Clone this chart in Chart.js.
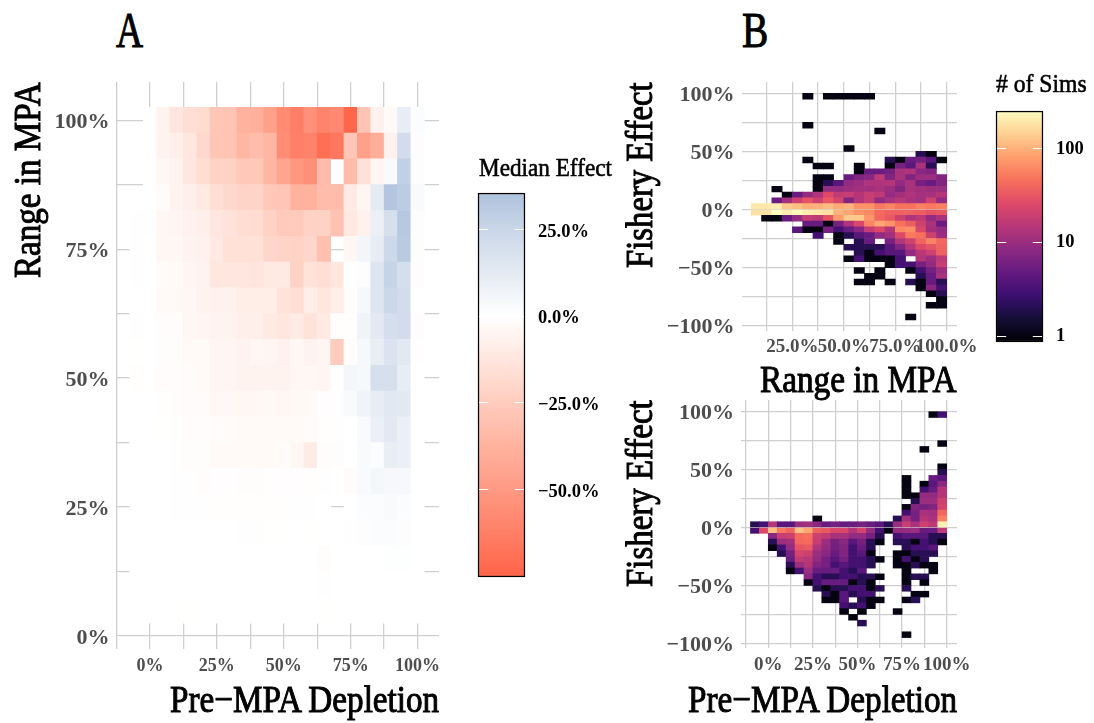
<!DOCTYPE html>
<html>
<head>
<meta charset="utf-8">
<script src="https://cdn.jsdelivr.net/npm/chart.js@4/dist/chart.umd.min.js"></script>
<style>
  html, body { margin: 0; padding: 0; background: #fff; }
  #page { position: relative; width: 1094px; height: 723px; overflow: hidden; }
  #page canvas { position: absolute; }
  .lab { position: absolute; font-family: "Liberation Serif", serif; color: #000; white-space: nowrap; line-height: 1; -webkit-text-stroke: 1px #000; transform-origin: left top; }
  .big { font-size: 38px; }
  .xt { transform-origin: right top; }
</style>
</head>
<body>
<div id="page">
  <canvas id="a" style="left:0;top:58px"></canvas>
  <canvas id="legendA" style="left:470px;top:167px"></canvas>
  <canvas id="top" style="left:620px;top:58px"></canvas>
  <canvas id="bottom" style="left:620px;top:376px"></canvas>
  <canvas id="legendB" style="left:988px;top:85px"></canvas>
  <div class="lab" data-w="27" style="left:116px;top:5px;font-size:50px">A</div>
  <div class="lab" data-w="26" style="left:742px;top:5px;font-size:50px">B</div>
  <div class="lab" data-w="133" style="left:479px;top:155px;font-size:26px;-webkit-text-stroke-width:.6px">Median Effect</div>
  <div class="lab" data-w="91" style="left:996px;top:71px;font-size:26px;-webkit-text-stroke-width:.6px"># of Sims</div>
  <div class="lab big xt" data-w="269" style="right:655px;top:680px">Pre&minus;MPA Depletion</div>
  <div class="lab big xt" data-w="269" style="right:137px;top:680px">Pre&minus;MPA Depletion</div>
  <div class="lab big xt" data-w="197" style="right:137px;top:360px">Range in MPA</div>
  <div class="lab big" data-w="196" data-rot="1" style="left:7.5px;top:278px">Range in MPA</div>
  <div class="lab big" data-w="186" data-rot="1" style="left:620px;top:268px">Fishery Effect</div>
  <div class="lab big" data-w="187" data-rot="1" style="left:620px;top:587px">Fishery Effect</div>
</div>
<script>
// panel A: range in MPA (rows) by depletion (columns), median effect in %
var depletionA = [-5,0,5,10,15,20,25,30,35,40,45,50,55,60,65,70,75,80,85,90,95,100];
var rangeA = [100,95,90,85,80,75,70,65,60,55,50,45,40,35,30,25,20,15,10,5];
var medianEffect = [
  [null,0,-6,-13,-16,-18,-28,-29,-38,-39,-47,-57,-63,-54,-60,-58,-74,-29,-7,-3,11,2],
  [null,0,-6,-8,-12,-19,-28,-29,-36,-33,-36,-56,-62,-61,-70,-66,-28,-47,-40,-7,21,1],
  [null,0,-4,-6,-12,-17,-22,-22,-27,-27,-36,-45,-52,-55,-33,null,-33,-15,-5,3,28,1],
  [null,0,-2,-6,-8,-11,-16,-19,-21,-21,-27,-28,-38,-38,-33,-33,-10,-5,12,33,30,3],
  [-0.5,-0.5,-4,-5,-7,-8,-12,-14,-17,-18,-22,-26,-26,-22,-22,-30,-11,-7,9,19,32,1],
  [-0.5,0,-4,-4,-6,-7,-11,-15,-15,-15,-20,-21,-22,-20,-31,null,-4,6,11,23,31,1],
  [-0.3,0,-2,-3,-5,-6,-12,-12,-12,-13,-11,-11,-22,-14,-16,-12,-0.5,1,16,26,20,1],
  [0,0,-3,-3,-4,-6,-7,-7,-9,-9,-9,-14,-16,-9,-12,-9,-1,4,16,24,21,0],
  [-0.3,0,-1,-1.5,-4,-5,-6,-6,-8,-8,-11,-12,-10,-14,-11,-0.7,-0.7,7,13,20,21,1],
  [-0.2,0,-1,-1,-3,-3,-5,-5,-6,-4,-5,-7,-4,-6,-5,-25,-1,4,10,17,13,0.5],
  [-0.7,0,-1.5,-1,-2,-3,-5,-5,-6,-6,-6,-6,-4,-4,-5,-0.3,5,4,19,19,11,0],
  [0,0,-0.3,-1,-2,-2,-4,-3.5,-4,-4,-3,-4,-3,-2.5,-0.8,-0.5,3,7,11,14,13,0],
  [0,0,-0.2,-0.6,-1.5,-1.5,-2,-2,-3,-2.5,-3,-3,-3,-2,-0.6,-0.4,0,3,9,13,9,0],
  [0,0,0,-0.3,-1,-1,-2.5,-2.5,-2.5,-2.5,-2.5,-2,-4,-10,-1,1,0,3,2,10,9,0],
  [0,0,-0.1,-0.3,-0.4,-1,-0.8,-0.8,-1,-1,-0.8,-0.5,-0.8,-0.6,-0.4,-0.1,-2,3,5,4,4,0],
  [0,0,0,-0.3,-0.3,-0.3,-0.6,-0.6,-0.6,-0.6,-0.6,-0.3,-0.3,-0.3,-0.1,null,0,2,2,3,2,0],
  [0,0,0,0,0,0,0,-0.1,-0.3,-0.3,-0.2,-0.2,-0.1,-0.2,0,0,0.5,1,2,2,1,0],
  [0,0,0,0,-0.1,0,0,0,-0.1,-0.1,-0.1,-0.1,-0.1,-0.1,-1,0,0.1,0,0.2,0.7,0.7,0],
  [0,0,0,0,0,0,0,0,0,0,0,0,0,0,-0.3,0,0,0,0,0,0,0],
  [0,0,0,0,-0.2,0,0,0,0,0,0,0,0,0,-0.2,0,0,0,0,0,0,0]
];

// lower edges of the 5% bins, rows run from top to bottom
var effectBins = [95,90,85,80,75,70,65,60,55,50,45,40,35,30,25,20,15,10,5,0,-5,-10,-15,-20,-25,-30,-35,-40,-45,-50,-55,-60,-65,-70,-75,-80,-85,-90,-95];

// panel B, top: sims per bin, range in MPA on x, 0 = no sims
var rangeBins = [5,10,15,20,25,30,35,40,45,50,55,60,65,70,75,80,85,90,95];
var simsByRange = [
  [0,0,0,0,0,1,0,1,1,1,1,1,0,0,0,0,0,0,0],
  [0,0,0,0,0,0,0,0,0,0,0,0,0,0,0,0,0,0,0],
  [0,0,0,0,0,0,0,0,0,0,0,0,0,0,0,0,0,0,0],
  [0,0,0,0,0,0,0,0,0,0,0,0,0,0,0,0,0,0,0],
  [0,0,0,0,0,0,0,0,0,0,0,0,0,0,0,0,0,0,0],
  [0,0,0,0,0,1,0,0,0,0,0,0,0,0,0,0,0,0,0],
  [0,0,0,0,0,0,0,0,0,0,0,0,1,0,0,0,0,0,0],
  [0,0,0,0,0,0,0,0,0,0,0,0,0,0,0,0,0,0,0],
  [0,0,0,0,0,0,0,0,0,0,0,0,0,0,0,0,0,0,0],
  [0,0,0,0,0,0,0,0,0,1,0,0,0,0,0,0,0,0,0],
  [0,0,0,0,0,0,0,0,0,0,0,0,0,0,0,0,2,1,0],
  [0,0,0,0,0,1,0,0,0,0,0,0,0,2,1,5,6,4,1],
  [0,0,0,0,0,0,1,1,0,0,1,0,0,1,6,4,12,2,0],
  [0,0,0,0,0,0,0,0,0,0,1,5,5,6,12,13,8,7,0],
  [0,0,0,0,0,0,1,1,0,5,7,8,16,7,12,7,10,10,7],
  [0,0,0,0,0,0,1,2,4,9,10,13,13,14,9,12,6,5,7],
  [0,0,1,0,0,0,1,9,9,10,11,11,12,10,7,12,11,10,10],
  [0,0,0,1,5,9,13,25,17,18,14,18,16,9,11,13,11,12,14],
  [0,0,5,11,20,30,20,32,22,7,14,18,9,12,15,12,11,20,9],
  [190,190,200,130,115,95,98,110,90,98,68,68,50,58,46,46,55,50,55],
  [175,175,245,200,235,200,190,170,100,85,68,60,42,36,36,36,34,30,32],
  [0,1,1,5,9,18,16,30,75,130,130,70,40,32,20,13,16,9,12],
  [0,0,0,0,0,5,5,1,6,13,24,58,85,70,45,35,20,12,5],
  [0,0,0,0,4,1,1,6,3,5,8,18,25,14,60,65,24,11,9],
  [0,0,0,0,0,0,3,0,1,2,4,5,9,11,25,50,45,20,10],
  [0,0,0,0,0,0,0,0,1,0,2,5,0,6,14,20,38,58,40],
  [0,0,0,0,0,0,0,0,0,2,2,2,2,4,7,14,25,30,38],
  [0,0,0,0,0,0,0,0,0,0,2,1,3,4,4,9,15,20,36],
  [0,0,0,0,0,0,0,0,0,1,3,1,1,1,3,0,14,10,16],
  [0,0,0,0,0,0,0,0,0,0,0,0,0,1,3,3,6,9,18],
  [0,0,0,0,0,0,0,0,0,0,1,0,1,0,0,1,3,6,10],
  [0,0,0,0,0,0,0,0,0,0,0,1,1,0,0,0,2,5,12],
  [0,0,0,0,0,0,0,0,0,0,1,1,0,1,0,2,1,5,2],
  [0,0,0,0,0,0,0,0,0,0,0,0,0,0,0,0,1,8,3],
  [0,0,0,0,0,0,0,0,0,0,0,0,0,0,0,0,0,1,2],
  [0,0,0,0,0,0,0,0,0,0,0,0,0,0,0,0,0,0,1],
  [0,0,0,0,0,0,0,0,0,0,0,0,0,0,0,0,0,1,1],
  [0,0,0,0,0,0,0,0,0,0,0,0,0,0,0,0,0,0,0],
  [0,0,0,0,0,0,0,0,0,0,0,0,0,0,0,1,0,0,0]
];

// panel B, bottom: same thing against pre-MPA depletion
var depletionBins = [-10,-5,0,5,10,15,20,25,30,35,40,45,50,55,60,65,70,75,80,85,90,95];
var simsByDepletion = [
  [0,0,0,0,0,0,0,0,0,0,0,0,0,0,0,0,0,0,0,0,1,3],
  [0,0,0,0,0,0,0,0,0,0,0,0,0,0,0,0,0,0,0,0,0,0],
  [0,0,0,0,0,0,0,0,0,0,0,0,0,0,0,0,0,0,0,0,0,0],
  [0,0,0,0,0,0,0,0,0,0,0,0,0,0,0,0,0,0,0,0,0,0],
  [0,0,0,0,0,0,0,0,0,0,0,0,0,0,0,0,0,0,0,0,0,0],
  [0,0,0,0,0,0,0,0,0,0,0,0,0,0,0,0,0,0,0,0,0,1],
  [0,0,0,0,0,0,0,0,0,0,0,0,0,0,0,0,0,0,0,1,0,0],
  [0,0,0,0,0,0,0,0,0,0,0,0,0,0,0,0,0,0,0,0,0,0],
  [0,0,0,0,0,0,0,0,0,0,0,0,0,0,0,0,0,0,0,0,0,0],
  [0,0,0,0,0,0,0,0,0,0,0,0,0,0,0,0,0,0,0,0,0,1],
  [0,0,0,0,0,0,0,0,0,0,0,0,0,0,0,0,0,0,0,0,0,2],
  [0,0,0,0,0,0,0,0,0,0,0,0,0,0,0,0,0,1,0,0,5,4],
  [0,0,0,0,0,0,0,0,0,0,0,0,0,0,0,0,0,1,0,1,4,8],
  [0,0,0,0,0,0,0,0,0,0,0,0,0,0,0,0,0,1,0,3,5,14],
  [0,0,0,0,0,0,0,0,0,0,0,0,0,0,0,0,0,1,1,9,9,14],
  [0,0,0,0,0,0,0,0,0,0,0,0,0,0,0,0,0,0,2,10,10,20],
  [0,0,0,0,0,0,0,0,0,0,0,0,0,0,0,0,0,1,7,6,7,22],
  [0,0,0,0,0,0,0,0,0,0,0,0,0,0,0,0,0,3,6,12,11,40],
  [0,0,0,0,0,0,0,1,0,0,0,0,0,0,0,0,2,11,6,14,12,55],
  [2,3,14,4,4,10,11,8,5,6,5,5,6,5,4,2,10,18,12,20,16,210],
  [3,25,115,50,38,120,85,36,32,24,24,14,22,9,3,1,9,9,10,5,5,16],
  [0,0,8,18,20,42,45,20,17,12,12,9,9,6,2,0,3,4,4,4,2,2],
  [0,0,2,10,11,40,42,18,10,6,8,4,6,2,1,0,2,2,1,3,2,1],
  [0,0,1,3,9,30,32,13,9,6,7,3,5,2,0,0,0,2,3,3,4,0],
  [0,0,0,2,6,22,20,10,8,5,7,3,4,1,0,0,1,1,2,2,2,0],
  [0,0,0,0,5,17,15,9,6,4,6,3,3,2,1,0,1,3,1,2,0,0],
  [0,0,0,0,2,10,14,7,6,3,4,3,3,2,0,0,1,1,2,1,1,0],
  [0,0,0,0,1,3,10,5,5,5,3,2,4,0,0,0,0,1,0,0,1,0],
  [0,0,0,0,0,0,8,3,2,2,3,3,2,2,1,0,0,1,2,2,0,0],
  [0,0,0,0,0,0,1,3,5,5,5,1,2,1,0,0,0,1,0,1,0,0],
  [0,0,0,0,0,0,0,2,1,2,2,3,3,1,2,0,0,2,0,0,0,0],
  [0,0,0,0,0,0,0,0,2,1,4,2,3,3,0,0,0,0,1,1,0,0],
  [0,0,0,0,0,0,0,0,1,1,4,0,2,1,1,0,0,1,2,0,0,0],
  [0,0,0,0,0,0,0,0,0,0,3,2,3,1,0,0,0,0,0,0,0,0],
  [0,0,0,0,0,0,0,0,0,0,1,0,1,0,0,0,1,0,0,0,0,0],
  [0,0,0,0,0,0,0,0,0,0,0,1,0,0,0,0,0,0,0,0,0,0],
  [0,0,0,0,0,0,0,0,0,0,0,0,2,0,0,0,0,0,0,0,0,0],
  [0,0,0,0,0,0,0,0,0,0,0,0,0,0,0,0,0,0,0,0,0,0],
  [0,0,0,0,0,0,0,0,0,0,0,0,0,0,0,0,0,1,0,0,0,0]
];

var effectTicks = [25,0,-25,-50];
var simsTicks = [1,10,100];

var SERIF = '"Liberation Serif", serif';
var GRID = '#cfcfcf';
var TICK_TEXT = '#4d4d4d';

var magma = ['#000004','#140e36','#3b0f70','#641a80','#8c2981','#b73779','#de4968','#f7705c','#fe9f6d','#fecf92','#fcfdbf'];
var simsMin = 0.855, simsMax = 246;
var effectMin = -75.3, effectMax = 35.3;
// value, colour pairs of the diverging legend
var effectStops = [[-75.3,'#ff6347'],[-62.5,'#ff7f66'],[-50,'#ff9a84'],[-37.5,'#ffb39f'],[-25,'#ffccbe'],[-12.5,'#ffe6de'],[0,'#ffffff'],[12,'#e5ebf3'],[25,'#c9d6e8'],[35.3,'#aec2dc']];

function hex(c) { return [1,3,5].map(function(i) { return parseInt(c.substr(i,2),16); }); }

function mix(a, b, t) {
  var p = hex(a), q = hex(b);
  return 'rgb(' + [0,1,2].map(function(i) { return Math.round(p[i] + (q[i]-p[i])*t); }).join(',') + ')';
}

function effectColor(v) {
  for (var i = 1; i < effectStops.length; i++) {
    if (v <= effectStops[i][0]) {
      var s = effectStops[i-1], e = effectStops[i];
      return mix(s[1], e[1], (v-s[0])/(e[0]-s[0]));
    }
  }
  return effectStops[effectStops.length-1][1];
}

function simsColor(n) {
  var t = Math.log(n/simsMin)/Math.log(simsMax/simsMin)*(magma.length-1);
  var i = Math.min(Math.floor(t), magma.length-2);
  return mix(magma[i], magma[i+1], t-i);
}

function pct(v) { return (v < 0 ? '\u2212' : '') + Math.abs(v) + '%'; }

// an empty string keeps the grid line, null would drop it
function every(n, fmt) {
  return function(v) { return Math.abs(v % n) < 1e-6 ? (fmt || pct)(v) : ''; };
}

function fixSize(size) {
  return function(scale) {
    if (scale.isHorizontal()) scale.height = size; else scale.width = size;
  };
}

function sizeCanvas(id, w, h) {
  var el = document.getElementById(id);
  el.width = w; el.height = h;
  el.style.width = w + 'px'; el.style.height = h + 'px';
  return el;
}

// the reference font is narrower than Liberation Serif, squeeze to the measured width
document.querySelectorAll('.lab').forEach(function(el) {
  var s = el.dataset.w / el.offsetWidth;
  el.style.transform = (el.dataset.rot ? 'rotate(-90deg) ' : '') + 'scaleX(' + s + ')';
});

// all three panels are one dataset of floating bars, one bar per cell
function heatmap(id, o) {
  new Chart(sizeCanvas(id, o.w, o.h), {
    type: 'bar',
    data: { datasets: [{
      data: o.cells,
      backgroundColor: function(c) { return c.raw ? c.raw.fill : 'transparent'; },
      borderWidth: 0,
      barPercentage: 1,
      categoryPercentage: 1
    }]},
    options: {
      responsive: false,
      animation: false,
      layout: { padding: o.padding },
      plugins: { legend: { display: false }, tooltip: { enabled: false } },
      scales: {
        x: {
          type: 'linear', offset: false, min: o.x[0], max: o.x[1],
          grid: { offset: false, color: GRID, lineWidth: 1.3, drawTicks: false },
          border: { display: false },
          afterFit: fixSize(o.xSize),
          ticks: { stepSize: 12.5, includeBounds: false, autoSkip: false, maxRotation: 0, padding: o.xTickPad,
            color: TICK_TEXT, font: { family: SERIF, size: o.xFont, weight: 'bold' }, callback: o.xLabel }
        },
        y: {
          min: o.y[0], max: o.y[1],
          grid: { color: GRID, lineWidth: 1.3, drawTicks: false },
          border: { display: false },
          afterFit: fixSize(o.ySize),
          ticks: { stepSize: o.yStep, includeBounds: false, autoSkip: false, padding: 7, labelOffset: 2,
            color: TICK_TEXT, font: { family: SERIF, size: 22, weight: 'bold' }, callback: o.yLabel }
        }
      }
    }
  });
}

function effectCells() {
  var out = [];
  rangeA.forEach(function(r, i) {
    depletionA.forEach(function(d, j) {
      var v = medianEffect[i][j];
      if (v !== null) out.push({ x: d, y: [r-2.5, r+2.5], fill: effectColor(v) });
    });
  });
  return out;
}

function simsCells(cols, rows, counts) {
  var out = [];
  rows.forEach(function(r, i) {
    cols.forEach(function(c, j) {
      var n = counts[i][j];
      if (n > 0) out.push({ x: c+2.5, y: [r, r+5], fill: simsColor(n) });
    });
  });
  return out;
}

heatmap('a', {
  w: 470, h: 665, padding: { top: 24, right: 31 },
  x: [-12.5, 108], y: [-2.5, 107.4], yStep: 12.5,
  xSize: 74, ySize: 116.5, xFont: 18, xTickPad: 7,
  xLabel: every(25), yLabel: every(25),
  cells: effectCells()
});

heatmap('top', {
  w: 370, h: 342, padding: { top: 24, right: 33 },
  x: [0.25, 105], y: [-104.6, 109.7], yStep: 25,
  xSize: 69, ySize: 121.5, xFont: 19, xTickPad: 5,
  xLabel: every(25, function(v) { return v.toFixed(1) + '%'; }), yLabel: every(50),
  cells: simsCells(rangeBins, effectBins, simsByRange)
});

heatmap('bottom', {
  w: 370, h: 347, padding: { top: 24, right: 33 },
  x: [-15.3, 105.8], y: [-104, 110.1], yStep: 25,
  xSize: 75, ySize: 121, xFont: 19, xTickPad: 6,
  xLabel: every(25), yLabel: every(50),
  cells: simsCells(depletionBins, effectBins, simsByDepletion)
});

// white marks inside a legend bar
var legendMarks = {
  id: 'legendMarks',
  afterDatasetsDraw: function(chart) {
    var a = chart.chartArea, c = chart.ctx, len = (a.right-a.left)/4.6;
    c.save();
    c.strokeStyle = '#fff';
    c.lineWidth = 1;
    chart.scales.y.ticks.forEach(function(t) {
      var y = Math.round(chart.scales.y.getPixelForValue(t.value)) + 0.5;
      c.beginPath();
      c.moveTo(a.left+1, y); c.lineTo(a.left+len, y);
      c.moveTo(a.right-len, y); c.lineTo(a.right-1, y);
      c.stroke();
    });
    c.restore();
  }
};

function legendBar(id, o) {
  new Chart(sizeCanvas(id, o.w, o.h), {
    type: 'bar',
    data: { labels: [''], datasets: [{
      data: [[o.min, o.max]],
      barPercentage: 1, categoryPercentage: 1,
      borderWidth: 1.5, borderColor: '#000', borderSkipped: false,
      clip: false,
      backgroundColor: function(c) {
        var a = c.chart.chartArea;
        if (!a) return '#fff';
        var g = c.chart.ctx.createLinearGradient(0, a.bottom, 0, a.top);
        o.stops.forEach(function(s) { g.addColorStop(s[0], s[1]); });
        return g;
      }
    }]},
    options: {
      responsive: false,
      animation: false,
      layout: { padding: o.padding },
      plugins: { legend: { display: false }, tooltip: { enabled: false } },
      scales: {
        x: { display: false },
        y: {
          type: o.type, position: 'right', min: o.min, max: o.max,
          grid: { display: false }, border: { display: false },
          afterFit: fixSize(o.axisSize),
          afterBuildTicks: function(s) { s.ticks = o.ticks.map(function(v) { return { value: v }; }); },
          ticks: { padding: 5, autoSkip: false, color: '#000', callback: o.label, labelOffset: o.labelOffset,
            font: { family: SERIF, size: 18.5, weight: 'bold' } }
        }
      }
    },
    plugins: [legendMarks]
  });
}

legendBar('legendA', {
  w: 160, h: 436, padding: { left: 8, top: 26, bottom: 26 }, axisSize: 105, labelOffset: 3,
  type: 'linear', min: effectMin, max: effectMax, ticks: effectTicks,
  label: function(v) { return (v < 0 ? '\u2212' : '') + Math.abs(v).toFixed(1) + '%'; },
  stops: effectStops.map(function(s) { return [(s[0]-effectMin)/(effectMax-effectMin), s[1]]; })
});

legendBar('legendB', {
  w: 106, h: 283, padding: { left: 8, top: 26, bottom: 26 }, axisSize: 51, labelOffset: 1,
  type: 'logarithmic', min: simsMin, max: simsMax, ticks: simsTicks,
  label: function(v) { return String(v); },
  stops: magma.map(function(m, i) { return [i/(magma.length-1), m]; })
});
</script>
</body>
</html>
